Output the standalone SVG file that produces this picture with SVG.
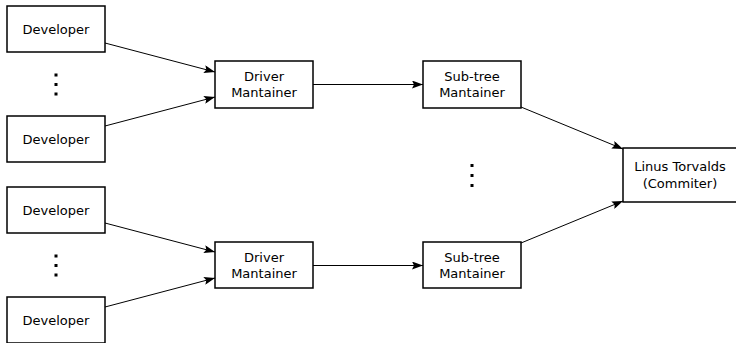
<svg xmlns="http://www.w3.org/2000/svg" width="736" height="343" viewBox="0 0 736 343">
<style>
.box{fill:#fff;stroke:#000;stroke-width:1.5}
.t{font-family:"DejaVu Sans",sans-serif;font-size:13px;fill:#000;text-anchor:middle}
.c{stroke:#000;stroke-width:1;fill:none;marker-end:url(#ah)}
.dot{fill:#000}
</style>
<defs>
<marker id="ah" markerWidth="11" markerHeight="8" refX="11" refY="4" orient="auto" markerUnits="userSpaceOnUse">
<path d="M0,0 L11,4 L0,8 L2,4 Z" fill="#000"/>
</marker>
</defs>
<rect width="736" height="343" fill="#fff"/>
<g id="connectors">
<line class="c" x1="105" y1="43" x2="215" y2="72"/>
<line class="c" x1="105" y1="126" x2="215" y2="97"/>
<line class="c" x1="105" y1="223" x2="215" y2="252"/>
<line class="c" x1="105" y1="307" x2="215" y2="278"/>
<line class="c" x1="313" y1="84.5" x2="423" y2="84.5"/>
<line class="c" x1="313" y1="265.5" x2="423" y2="265.5"/>
<line class="c" x1="521" y1="107" x2="623" y2="149"/>
<line class="c" x1="521" y1="243" x2="623" y2="201"/>
</g>
<g id="dev1"><rect class="box" x="7" y="6" width="98" height="46"/><text class="t" x="56" y="33.5">Developer</text></g>
<g id="dev2"><rect class="box" x="7" y="116" width="98" height="46"/><text class="t" x="56" y="143.5">Developer</text></g>
<g id="dev3"><rect class="box" x="7" y="187" width="98" height="46"/><text class="t" x="56" y="214.5">Developer</text></g>
<g id="dev4"><rect class="box" x="7" y="297" width="98" height="46"/><text class="t" x="56" y="324.5">Developer</text></g>
<g id="dots1"><rect class="dot" x="54.5" y="73.5" width="3" height="3"/><rect class="dot" x="54.5" y="83" width="3" height="3"/><rect class="dot" x="54.5" y="92.5" width="3" height="3"/></g>
<g id="dots2"><rect class="dot" x="54.5" y="254.5" width="3" height="3"/><rect class="dot" x="54.5" y="264" width="3" height="3"/><rect class="dot" x="54.5" y="273.5" width="3" height="3"/></g>
<g id="dots3"><rect class="dot" x="470.5" y="164" width="3" height="3"/><rect class="dot" x="470.5" y="174" width="3" height="3"/><rect class="dot" x="470.5" y="184" width="3" height="3"/></g>
<g id="drv1"><rect class="box" x="215" y="61" width="98" height="47"/><text class="t" x="264" y="81">Driver</text><text class="t" x="264" y="97">Mantainer</text></g>
<g id="drv2"><rect class="box" x="215" y="242" width="98" height="46"/><text class="t" x="264" y="262">Driver</text><text class="t" x="264" y="278">Mantainer</text></g>
<g id="sub1"><rect class="box" x="423" y="61" width="98" height="47"/><text class="t" x="472" y="81">Sub-tree</text><text class="t" x="472" y="97">Mantainer</text></g>
<g id="sub2"><rect class="box" x="423" y="242" width="98" height="46"/><text class="t" x="472" y="262">Sub-tree</text><text class="t" x="472" y="278">Mantainer</text></g>
<g id="linus"><rect class="box" x="623" y="148" width="115" height="54"/><text class="t" x="680" y="171">Linus Torvalds</text><text class="t" x="680" y="188">(Commiter)</text></g>
</svg>
